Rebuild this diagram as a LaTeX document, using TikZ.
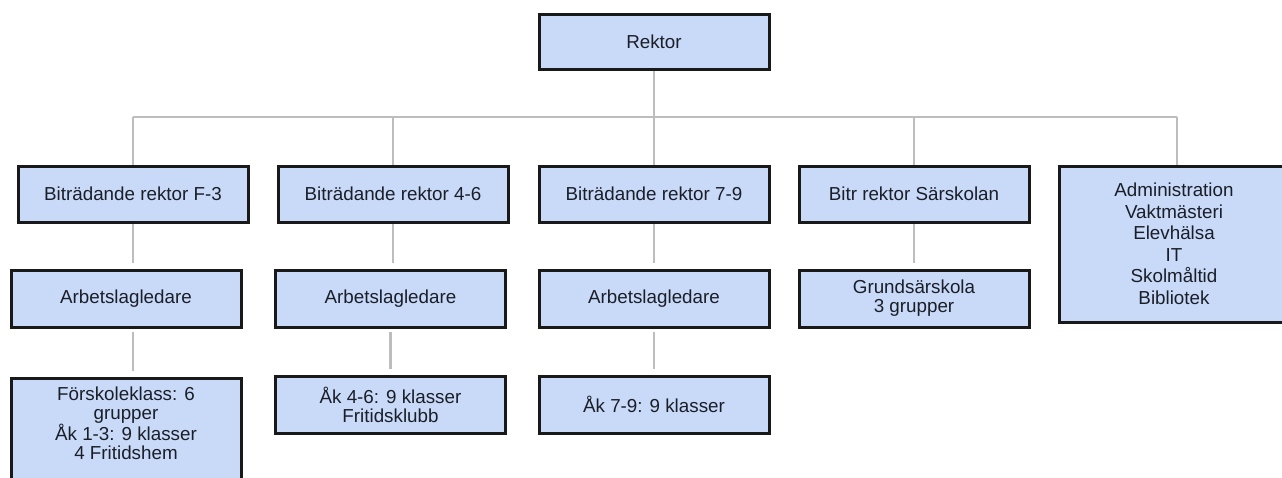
\documentclass[tikz,border=0pt]{standalone}
\usepackage{fontspec}
\setmainfont{Liberation Sans}
\definecolor{boxblue}{HTML}{C9DAF8}
\definecolor{linegray}{HTML}{BDBDBD}
\definecolor{textdark}{HTML}{1A1E28}
\newcommand{\boxW}{230pt}
\newcommand{\busY}{117}

\begin{document}
\begin{tikzpicture}[x=1pt,y=-1pt,
    orgbox/.style={draw=black!90, line width=3pt, fill=boxblue, text=textdark,
        minimum width=\boxW, minimum height=56pt, inner sep=0pt, align=center,
        font=\fontsize{18.8}{19}\selectfont},
    link/.style={linegray, line width=2.2pt}]

        % Page with white background
        \path[use as bounding box, fill=white] (0,0) rectangle (1282,477);

        % Top box
        \node[orgbox, minimum height=55pt] (rektor) at (654,41.5) {Rektor};

        % Second row
        \node[orgbox] (bitrF) at (133,194) {Biträdande rektor F-3};
        \node[orgbox] (bitrA) at (393,194) {Biträdande rektor 4-6};
        \node[orgbox] (bitrB) at (654,194) {Biträdande rektor 7-9};
        \node[orgbox] (bitrS) at (914,194) {Bitr rektor Särskolan};
        \node[orgbox, minimum height=156pt, font=\fontsize{18.8}{21.5}\selectfont] (admin) at (1174,244)
            {Administration\\Vaktmästeri\\Elevhälsa\\IT\\Skolmåltid\\Bibliotek};

        % Third row
        \node[orgbox, minimum height=57pt] (ledF) at (126,298.5) {Arbetslagledare};
        \node[orgbox, minimum height=57pt] (ledA) at (390.5,298.5) {Arbetslagledare};
        \node[orgbox, minimum height=57pt] (ledB) at (654,298.5) {Arbetslagledare};
        \node[orgbox, minimum height=57pt] (grund) at (914,298.5) {Grundsärskola\\3 grupper};

        % Fourth row (the left box runs past the lower edge)
        \node[orgbox, minimum height=0pt, anchor=north, inner ysep=8pt, text depth=20pt] (klassF) at (126,377)
            {Förskoleklass: 6\\grupper\\Åk 1-3: 9 klasser\\4 Fritidshem};
        \node[orgbox, minimum height=57pt] (klassA) at (390.5,404.5) {Åk 4-6: 9 klasser\\Fritidsklubb};
        \node[orgbox, minimum height=57pt] (klassB) at (654,404.5) {Åk 7-9: 9 klasser};

        % Connectors from Rektor to the second row
        \coordinate (bus) at (0,\busY);
        \draw[link] (rektor.south) -- (rektor.south |- bus);
        \draw[link] (bitrF.north |- bus) -- (1177,\busY) coordinate (busend);
        \foreach \n in {bitrF,bitrA,bitrB,bitrS}
            \draw[link] (\n.north |- bus) -- (\n.north);
        \draw[link] (busend) -- (busend |- admin.north);

        % Connectors further down
        \draw[link, shorten >=6pt] (bitrF.south) -- (bitrF.south |- ledF.north);
        \draw[link, shorten >=6pt] (bitrA.south) -- (bitrA.south |- ledA.north);
        \draw[link, shorten >=6pt] (bitrB.south) -- (bitrB.south |- ledB.north);
        \draw[link, shorten >=6pt] (bitrS.south) -- (bitrS.south |- grund.north);
        \draw[link, shorten <=3pt, shorten >=6pt] (bitrF.south |- ledF.south) -- (bitrF.south |- klassF.north);
        \draw[link, shorten <=3pt, shorten >=6pt] (ledA.south) -- (ledA.south |- klassA.north);
        \draw[link, shorten <=3pt, shorten >=6pt] (ledB.south) -- (ledB.south |- klassB.north);
\end{tikzpicture}
\end{document}
